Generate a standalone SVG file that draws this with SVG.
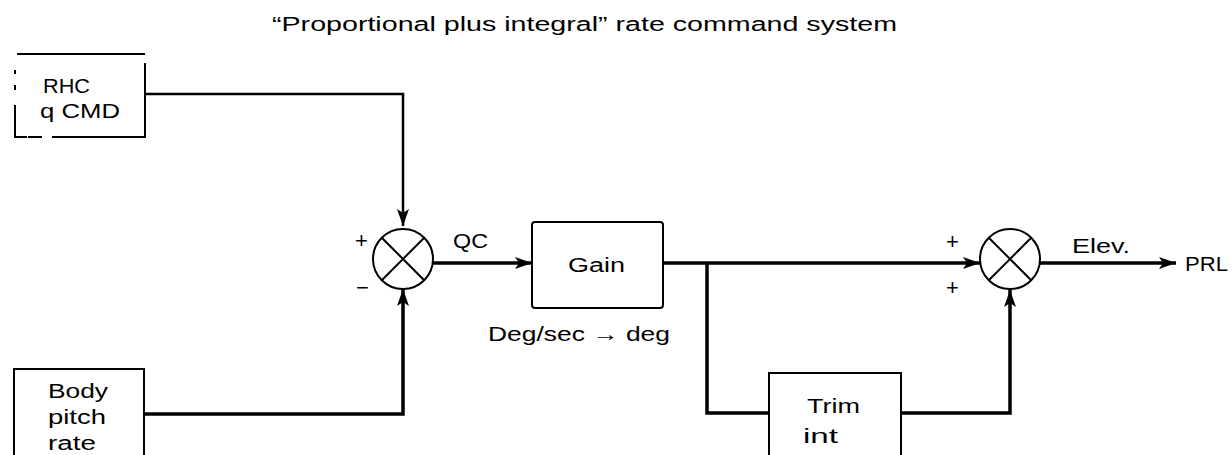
<svg xmlns="http://www.w3.org/2000/svg" width="1232" height="455" viewBox="0 0 1232 455">
<style>
.box{fill:#fff;stroke:#000;stroke-width:2}
.sum{fill:#fff;stroke:#000;stroke-width:2}
.x{stroke:#000;stroke-width:2}
.wire{fill:none;stroke:#000;stroke-width:3.5;stroke-linejoin:miter}
.thin{fill:none;stroke:#000;stroke-width:2}
text{font-family:"Liberation Sans",Arial,sans-serif;fill:#000}
.lbl{font-size:20px}
.sign{font-size:22px}
</style>
<defs>
<marker id="ah" markerUnits="userSpaceOnUse" markerWidth="18" markerHeight="12" refX="17" refY="6" orient="auto">
<path d="M0,0 L17,6 L0,12 L4,6 Z" fill="#000"/>
</marker>
</defs>
<rect width="1232" height="455" fill="#fff"/>
<text x="272" y="31" class="lbl" textLength="625" lengthAdjust="spacingAndGlyphs">“Proportional plus integral” rate command system</text>

<g id="connectors">
<path class="wire" d="M145,94 H403 V226" marker-end="url(#ah)" style="stroke-width:2.5"/>
<path class="wire" d="M144,414 H403 V289" marker-end="url(#ah)"/>
<path class="wire" d="M433,263 H532" marker-end="url(#ah)"/>
<path class="wire" d="M663,263 H980" marker-end="url(#ah)"/>
<path class="wire" d="M707,263 V413 H769"/>
<path class="wire" d="M901,413 H1010 V290" marker-end="url(#ah)"/>
<path class="wire" d="M1040,263 H1176" marker-end="url(#ah)"/>
</g>

<g id="rhc">
<path class="thin" d="M17,54 H145 M145,63 V137 H52 M42,137 H28 M27,137 H15 V105 M15,70 V74 M15,85 V90"/>
<text x="43" y="93" class="lbl" textLength="47" lengthAdjust="spacingAndGlyphs">RHC</text>
<text x="40" y="118" class="lbl" textLength="80" lengthAdjust="spacingAndGlyphs">q CMD</text>
</g>

<g id="body">
<rect class="box" x="14" y="369" width="130" height="100"/>
<text x="48" y="398" class="lbl" textLength="60" lengthAdjust="spacingAndGlyphs">Body</text>
<text x="48" y="424" class="lbl" textLength="58" lengthAdjust="spacingAndGlyphs">pitch</text>
<text x="48" y="450" class="lbl" textLength="48" lengthAdjust="spacingAndGlyphs">rate</text>
</g>

<g id="sum1">
<circle class="sum" cx="403" cy="259" r="30"/>
<path class="x" d="M381.8,237.8 L424.2,280.2 M424.2,237.8 L381.8,280.2"/>
<text x="355" y="248" class="sign">+</text>
<text x="356" y="295" class="sign">−</text>
</g>
<text x="453" y="248" class="lbl" textLength="35" lengthAdjust="spacingAndGlyphs">QC</text>

<g id="gain">
<rect class="box" x="532" y="222" width="131" height="86" rx="3"/>
<text x="568" y="272" class="lbl" textLength="57" lengthAdjust="spacingAndGlyphs">Gain</text>
<text x="488" y="341" class="lbl" textLength="182" lengthAdjust="spacingAndGlyphs">Deg/sec → deg</text>
</g>

<g id="trim">
<rect class="box" x="769" y="373" width="132" height="100"/>
<text x="807" y="413" class="lbl" textLength="53" lengthAdjust="spacingAndGlyphs">Trim</text>
<text x="803" y="443" class="lbl" textLength="35" lengthAdjust="spacingAndGlyphs">int</text>
</g>

<g id="sum2">
<circle class="sum" cx="1010" cy="259" r="30"/>
<path class="x" d="M988.8,237.8 L1031.2,280.2 M1031.2,237.8 L988.8,280.2"/>
<text x="946" y="249" class="sign">+</text>
<text x="946" y="295" class="sign">+</text>
</g>
<text x="1072" y="253" class="lbl" textLength="58" lengthAdjust="spacingAndGlyphs">Elev.</text>
<text x="1185" y="271" class="lbl" textLength="43" lengthAdjust="spacingAndGlyphs">PRL</text>
</svg>
